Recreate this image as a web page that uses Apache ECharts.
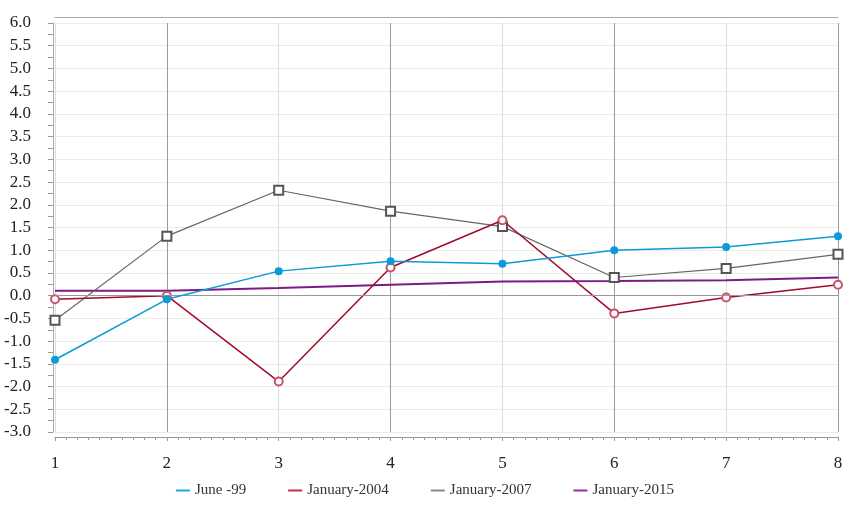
<!DOCTYPE html>
<html>
<head>
<meta charset="utf-8">
<script src="https://cdn.jsdelivr.net/npm/echarts@6/dist/echarts.min.js"></script>
<style>html,body{margin:0;padding:0;background:#fff}#c{width:850px;height:515px}</style>
</head>
<body>
<div id="c"></div>
<script>
var categories = [1, 2, 3, 4, 5, 6, 7, 8];
var june99 = [-1.41, -0.08, 0.54, 0.76, 0.70, 1.00, 1.07, 1.31];
var jan2004 = [-0.08, 0.00, -1.89, 0.62, 1.66, -0.39, -0.04, 0.24];
var jan2007 = [-0.54, 1.31, 2.32, 1.86, 1.52, 0.40, 0.60, 0.91];
var jan2015 = [0.11, 0.11, 0.17, 0.24, 0.31, 0.32, 0.34, 0.40];
var seriesNames = ['June -99', 'January-2004', 'January-2007', 'January-2015'];
var legendColors = ['#19a9e6', '#c0304a', '#888888', '#9a2aa0'];

function pairs(vals) { return categories.map(function (c, i) { return [c, vals[i]]; }); }

var font = 'Liberation Serif';
var chart = echarts.init(document.getElementById('c'));
chart.setOption({
  animation: false,
  grid: { left: 55, right: 12, top: 23, bottom: 83 },
  legend: {
    bottom: 12, left: 'center', itemGap: 42, itemWidth: 14, itemHeight: 2, icon: 'rect',
    textStyle: { fontFamily: font, fontSize: 15, color: '#333' },
    data: seriesNames.map(function (n, i) {
      return { name: n, icon: 'rect', itemStyle: { color: legendColors[i], borderWidth: 0 } };
    })
  },
  xAxis: [{
    type: 'value', min: 1, max: 8, interval: 1, offset: 5,
    axisLine: { show: true, onZero: false, lineStyle: { color: '#999' } },
    axisTick: { show: true, length: 4, lineStyle: { color: '#999' } },
    minorTick: { show: true, splitNumber: 10, length: 3, lineStyle: { color: '#999' } },
    axisLabel: { margin: 18, fontFamily: font, fontSize: 17, color: '#222' },
    splitLine: { show: true, lineStyle: { color: ['#dcdcdc', '#9a9a9a'], width: 1 } }
  }, {
    type: 'value', min: 1, max: 8, position: 'top', offset: 6,
    axisLine: { show: true, onZero: false, lineStyle: { color: '#aaa' } },
    axisTick: { show: false }, axisLabel: { show: false }, splitLine: { show: false }
  }],
  yAxis: {
    type: 'value', min: -3, max: 6, interval: 0.5, offset: 2,
    axisLine: { show: true, onZero: false, lineStyle: { color: '#aaa' } },
    axisTick: { show: true, length: 5, lineStyle: { color: '#999' } },
    minorTick: { show: true, splitNumber: 2, length: 5, lineStyle: { color: '#999' } },
    axisLabel: { margin: 22, fontFamily: font, fontSize: 17, color: '#222',
      formatter: function (v) { return v.toFixed(1); } },
    splitLine: { show: true, lineStyle: { color: '#ebebeb' } }
  },
  series: [{
    name: seriesNames[0], type: 'line', data: pairs(june99),
    symbol: 'circle', symbolSize: 8,
    lineStyle: { color: '#0a9bd8', width: 1.5 }, itemStyle: { color: '#0a9bd8' },
    markLine: { silent: true, symbol: 'none', label: { show: false },
      lineStyle: { color: '#999', type: 'solid', width: 1 }, data: [{ yAxis: 0 }] },
    z: 5
  }, {
    name: seriesNames[1], type: 'line', data: pairs(jan2004),
    symbol: 'emptyCircle', symbolSize: 8,
    lineStyle: { color: '#a10a28', width: 1.5 },
    itemStyle: { color: '#c8506a', borderWidth: 1 },
    z: 4
  }, {
    name: seriesNames[2], type: 'line', data: pairs(jan2007),
    symbol: 'emptyRect', symbolSize: 9,
    lineStyle: { color: '#666', width: 1.2 },
    itemStyle: { color: '#555', borderWidth: 0.8 },
    z: 3
  }, {
    name: seriesNames[3], type: 'line', data: pairs(jan2015),
    symbol: 'none',
    lineStyle: { color: '#7e1a86', width: 2 }, itemStyle: { color: '#8e2496' },
    z: 2
  }]
});
</script>
</body>
</html>
